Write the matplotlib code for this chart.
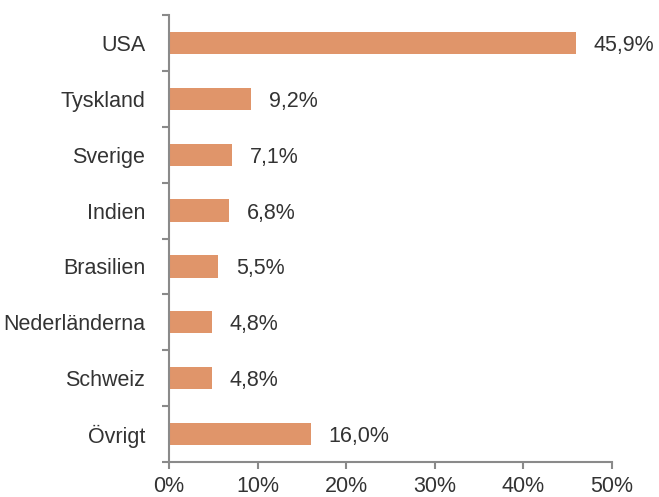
import matplotlib.pyplot as plt
from matplotlib.ticker import FuncFormatter

plt.rcParams['font.family'] = ['Liberation Sans', 'DejaVu Sans']

# Data
countries = ["USA", "Tyskland", "Sverige", "Indien", "Brasilien", "Nederländerna", "Schweiz", "Övrigt"]
shares = [45.9, 9.2, 7.1, 6.8, 5.5, 4.8, 4.8, 16.0]
xticks = [0, 10, 20, 30, 40, 50]

bar_color = "#E0956A"
text_color = "#333333"
axis_color = "#8a8a8a"

fig = plt.figure(figsize=(6.59, 4.97), dpi=100)
ax = fig.add_axes([0.2565, 0.0704, 0.672, 0.8994])

pos = list(range(len(countries)))
ax.barh(pos, shares, height=0.4, color=bar_color)
ax.set_ylim(len(countries) - 0.5, -0.5)
ax.set_xlim(0, 50)

for p, v in zip(pos, shares):
    ax.annotate(f"{v:.1f}%".replace(".", ","), (v, p), xytext=(13, 0),
                textcoords="offset points", va="center_baseline", ha="left",
                fontsize=15.5, color=text_color)

ax.set_yticks(pos)
ax.set_yticklabels(countries)
ax.set_yticks([p + 0.5 for p in range(-1, len(countries))], minor=True)
ax.tick_params(axis="y", which="major", length=0, pad=17, labelsize=15.5, labelcolor=text_color)
ax.tick_params(axis="y", which="minor", length=5, width=1.5, color=axis_color, direction="out")

ax.set_xticks(xticks)
ax.xaxis.set_major_formatter(FuncFormatter(lambda x, _: f"{x:.0f}%"))
ax.tick_params(axis="x", length=5, width=1.5, color=axis_color, pad=5,
               labelsize=15.5, labelcolor=text_color)

for s in ["top", "right"]:
    ax.spines[s].set_visible(False)
for s in ["left", "bottom"]:
    ax.spines[s].set_color(axis_color)
    ax.spines[s].set_linewidth(1.5)

fig.savefig("out.png", dpi=100)
